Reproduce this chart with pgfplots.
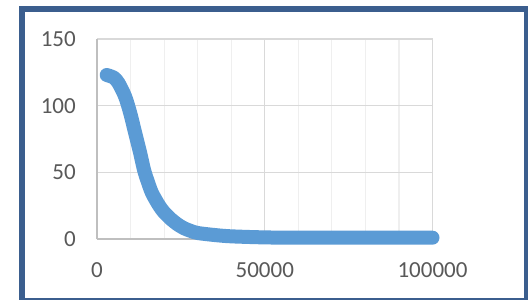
\documentclass[border=0pt]{standalone}
\usepackage{pgfplots}
\pgfplotsset{compat=1.18}
\usepackage{fontspec}
\setmainfont{Carlito}
\definecolor{frameblue}{HTML}{3B5E8E}
\definecolor{serieblue}{HTML}{5B9BD5}
\definecolor{gridmaj}{HTML}{D9D9D9}
\definecolor{gridmin}{HTML}{EFEFEF}
\definecolor{axisc}{HTML}{BFBFBF}
\definecolor{labelc}{HTML}{595959}
\begin{document}
\begin{tikzpicture}
\path[use as bounding box, fill=white] (0,0) rectangle (528bp,300bp);
\begin{axis}[
  at={(97bp,61bp)}, anchor=south west,
  scale only axis, width=335.5bp, height=200bp,
  xmin=0, xmax=100000, ymin=0, ymax=150,
  xtick={0,50000,100000}, ytick={0,50,100,150},
  xticklabels={0,50000,100000}, yticklabels={0,50,100,150},
  minor x tick num=4,
  grid=both,
  major grid style={draw=gridmaj, line width=1.2bp},
  minor grid style={draw=gridmin, line width=1.2bp},
  axis x line*=bottom, axis y line*=left,
  axis line style={draw=axisc, line width=1.3bp, -},
  major tick length=0pt, minor tick length=0pt,
  tick style={draw=none},
  scaled x ticks=false,
  tick label style={font=\fontsize{23bp}{27bp}\selectfont, text=labelc, inner sep=0pt},
  yticklabel style={anchor=east, xshift=-21bp},
  xticklabel style={anchor=base, yshift=-38bp},
  clip=false,
]
\addplot[serieblue, line width=14bp, smooth, tension=0.5, line cap=round, line join=round] coordinates {
(2900,123) (5000,121) (6400,117) (8350,107) (9840,95) (11330,80) (12820,65)
(14000,52) (15000,44) (16300,35) (17800,28) (18800,24) (20000,20) (22000,15)
(24000,11) (26000,8) (28000,6) (30000,4.5) (35000,3) (40000,2) (50000,1.2)
(60000,1) (80000,1) (100000,1)
};
\end{axis}
\draw[frameblue, line width=6bp] (22bp,-0.7bp) rectangle (527.3bp,291bp);
\end{tikzpicture}
\end{document}
